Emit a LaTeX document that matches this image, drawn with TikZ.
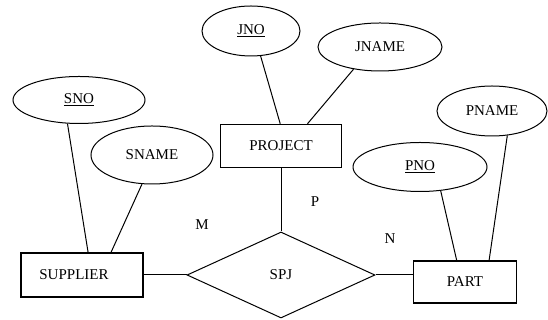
\documentclass[tikz,border=0pt]{standalone}
\usepackage{fontspec}
\setmainfont{Liberation Serif}
\usetikzlibrary{shapes.geometric}

\begin{document}
\begin{tikzpicture}[x=1pt,y=1pt,
  font=\fontsize{15}{17}\selectfont,
  attr/.style={draw, ellipse, line width=1pt, inner sep=0pt},
  entity/.style={draw, rectangle, line width=1.4pt, inner sep=0pt},
  relship/.style={draw, diamond, line width=1pt, inner sep=0pt, aspect=2.19}]
\useasboundingbox (0,0) rectangle (548,320);
% attributes
\node[attr, minimum width=132pt, minimum height=47pt] (sno) at (79,220) {\underline{SNO}};
\node[attr, minimum width=122pt, minimum height=58pt] (sname) at (152,165) {SNAME};
\node[attr, minimum width=98pt, minimum height=50pt] (jno) at (251,289) {\underline{JNO}};
\node[attr, minimum width=124pt, minimum height=48pt] (jname) at (380,273) {JNAME};
\node[attr, minimum width=134pt, minimum height=49pt] (pno) at (420,153) {\underline{PNO}};
\node[attr, minimum width=110pt, minimum height=50pt] (pname) at (492,209) {PNAME};
% entities and relationship
\node[entity, minimum width=122pt, minimum height=44pt] (supplier) at (82,45) {SUPPLIER\kern16pt};
\node[entity, minimum width=121pt, minimum height=43pt] (project) at (281,174) {PROJECT};
\node[entity, minimum width=103pt, minimum height=42pt] (part) at (465,38) {PART};
\node[relship, minimum width=188pt, minimum height=86pt] (spj) at (281,45) {SPJ};
% cardinalities
\node (lblm) at (202,95) {M};
\node (lblp) at (315,118) {P};
\node (lbln) at (390,81) {N};
% connectors
\draw[line width=1pt] (sno.244) -- (supplier.75);
\draw[line width=1pt] (sname.251) -- (supplier.38);
\draw[line width=1pt] (jno.291) -- (project.92);
\draw[line width=1pt] (jname.220) -- (project.40);
\draw[line width=1pt] (project.south) -- (spj.north);
\draw[line width=1pt] (supplier.east) -- (spj.west);
\draw[line width=1pt] (spj.east) -- (spj.east -| part.west);
\draw[line width=1pt] (pno.311) -- (part.111);
\draw[line width=1pt] (pname.302) -- (part.42);
\end{tikzpicture}
\end{document}
